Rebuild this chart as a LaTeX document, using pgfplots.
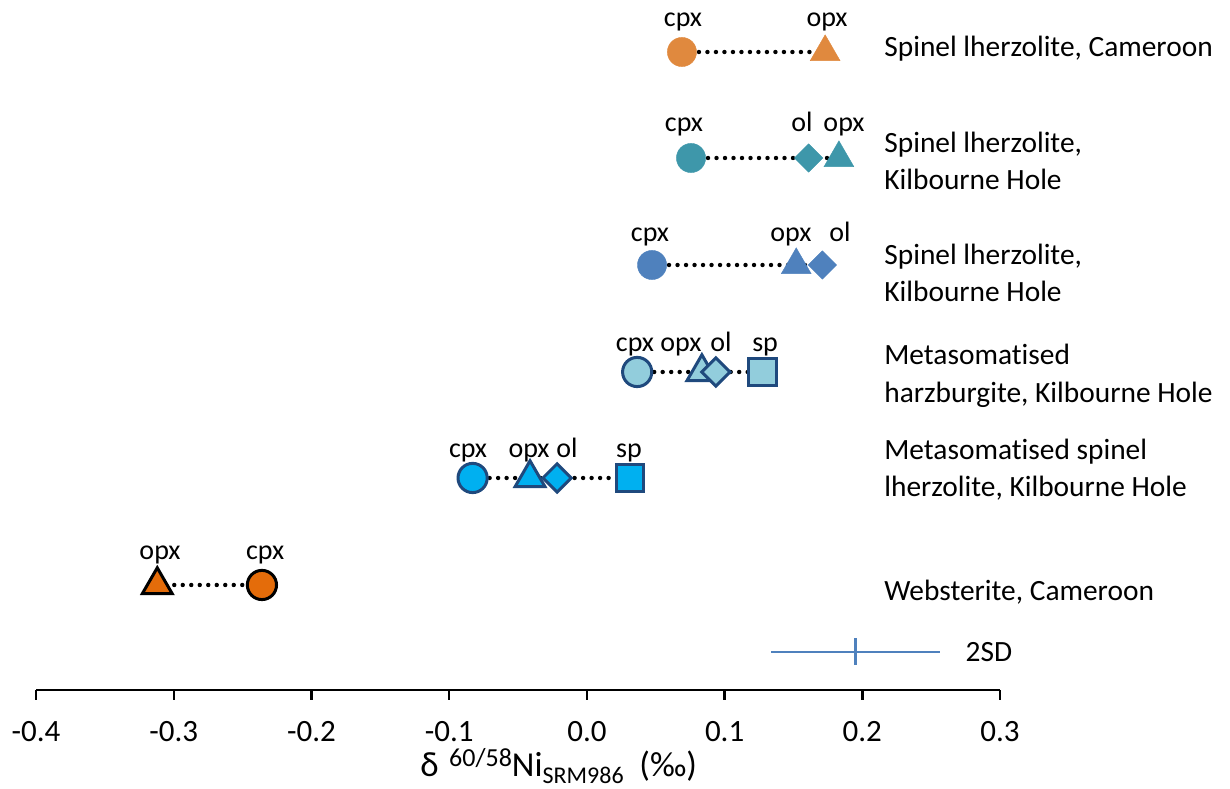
\documentclass[border=0pt]{standalone}
\usepackage{pgfplots}
\pgfplotsset{compat=1.18}
\usepackage{fontspec}
\setmainfont{Carlito}[Ligatures=NoCommon]
\definecolor{c1}{RGB}{224,137,62}
\definecolor{c2}{RGB}{62,151,170}
\definecolor{c3}{RGB}{79,129,189}
\definecolor{c4}{RGB}{146,205,220}
\definecolor{c5}{RGB}{0,176,240}
\definecolor{c6}{RGB}{228,108,10}
\definecolor{edge}{RGB}{31,73,125}
\pgfplotsset{
  circ/.style n args={3}{only marks, mark=*, mark size=7.3pt, mark options={fill=#1, draw=#2, line width=#3}},
  tri/.style n args={3}{only marks, mark=triangle*, mark size=8.6pt, mark options={fill=#1, draw=#2, line width=#3}},
  dia/.style n args={3}{only marks, mark=square*, mark size=5pt, mark options={fill=#1, draw=#2, line width=#3, rotate=45}},
  sq/.style n args={3}{only marks, mark=square*, mark size=6.8pt, mark options={fill=#1, draw=#2, line width=#3}},
  dotline/.style={no marks, black, line width=2.2pt, line cap=round, dash pattern=on 0pt off 4.25pt},
}
\tikzset{
  lab/.style={anchor=base, inner sep=0pt, font=\fontsize{14}{16}\selectfont},
  rlab/.style={anchor=base west, inner sep=0pt, font=\fontsize{14.7}{17}\selectfont},
}
\begin{document}
\begin{tikzpicture}
\begin{axis}[
  scale only axis, width=482pt, height=345pt,
  xmin=-0.4, xmax=0.3, ymin=0, ymax=690,
  axis x line=bottom, axis y line=none,
  axis line style={-, line width=1.2pt, black},
  xtick={-0.4,-0.3,-0.2,-0.1,0,0.1,0.2,0.3},
  xticklabels={-0.4,-0.3,-0.2,-0.1,0.0,0.1,0.2,0.3},
  tick align=outside, major tick length=5pt,
  tick style={line width=1.2pt, black},
  xticklabel style={font=\fontsize{15.5}{18}\selectfont, anchor=base, yshift=-21pt},
  clip=false,
]
% dotted connecting lines
\addplot[dotline] coordinates {(0.069,638) (0.173,638)};
\addplot[dotline] coordinates {(0.0756,532) (0.183,532)};
\addplot[dotline] coordinates {(0.0473,425) (0.171,425)};
\addplot[dotline] coordinates {(0.0365,318) (0.1275,318)};
\addplot[dotline] coordinates {(-0.083,212) (0.0313,212)};
\addplot[dotline] coordinates {(-0.312,105) (-0.236,105)};
% Row 1: Spinel lherzolite, Cameroon
\addplot[circ={c1}{c1}{0.2pt}] coordinates {(0.069,638)};
\addplot[tri={c1}{c1}{0.2pt}] coordinates {(0.173,638)};
% Row 2
\addplot[circ={c2}{c2}{0.2pt}] coordinates {(0.0756,532)};
\addplot[dia={c2}{c2}{0.2pt}] coordinates {(0.161,532)};
\addplot[tri={c2}{c2}{0.2pt}] coordinates {(0.183,532)};
% Row 3
\addplot[circ={c3}{c3}{0.2pt}] coordinates {(0.0473,425)};
\addplot[tri={c3}{c3}{0.2pt}] coordinates {(0.152,425)};
\addplot[dia={c3}{c3}{0.2pt}] coordinates {(0.171,425)};
% Row 4
\addplot[circ={c4}{edge}{1.5pt}] coordinates {(0.0365,318)};
\addplot[tri={c4}{edge}{1.5pt}] coordinates {(0.0835,318)};
\addplot[dia={c4}{edge}{1.5pt}] coordinates {(0.0937,318)};
\addplot[sq={c4}{edge}{1.5pt}] coordinates {(0.1275,318)};
% Row 5
\addplot[circ={c5}{edge}{1.5pt}] coordinates {(-0.083,212)};
\addplot[tri={c5}{edge}{1.5pt}] coordinates {(-0.0413,212)};
\addplot[dia={c5}{edge}{1.5pt}] coordinates {(-0.0217,212)};
\addplot[sq={c5}{edge}{1.5pt}] coordinates {(0.0313,212)};
% Row 6
\addplot[tri={c6}{black}{1.5pt}] coordinates {(-0.312,105)};
\addplot[circ={c6}{black}{1.5pt}] coordinates {(-0.236,105)};
% 2SD
\addplot[c3, line width=1.25pt, mark=|, mark size=6.75pt, mark options={line width=1.25pt},
  error bars/.cd, x dir=both, x explicit, error mark=none,
  error bar style={line width=1.25pt, c3}]
  coordinates {(0.195,38) +- (0.0615,0)};
% mineral labels
\node[lab] at (axis cs:0.0698,663) {cpx};
\node[lab] at (axis cs:0.1744,663) {opx};
\node[lab] at (axis cs:0.0705,558) {cpx};
\node[lab] at (axis cs:0.1562,558) {ol};
\node[lab] at (axis cs:0.1867,558) {opx};
\node[lab] at (axis cs:0.0458,448) {cpx};
\node[lab] at (axis cs:0.1482,448) {opx};
\node[lab] at (axis cs:0.1838,448) {ol};
\node[lab] at (axis cs:0.0349,338) {cpx};
\node[lab] at (axis cs:0.0683,338) {opx};
\node[lab] at (axis cs:0.0974,338) {ol};
\node[lab] at (axis cs:0.1294,338) {sp};
\node[lab] at (axis cs:-0.0863,232) {cpx};
\node[lab] at (axis cs:-0.0420,232) {opx};
\node[lab] at (axis cs:-0.0144,232) {ol};
\node[lab] at (axis cs:0.0306,232) {sp};
\node[lab] at (axis cs:-0.3100,130) {opx};
\node[lab] at (axis cs:-0.2337,130) {cpx};
% row labels
\node[rlab] at (axis cs:0.2157,633) {Spinel lherzolite, Cameroon};
\node[rlab] at (axis cs:0.2157,537) {Spinel lherzolite,};
\node[rlab] at (axis cs:0.2157,500) {Kilbourne Hole};
\node[rlab] at (axis cs:0.2157,425) {Spinel lherzolite,};
\node[rlab] at (axis cs:0.2157,388) {Kilbourne Hole};
\node[rlab] at (axis cs:0.2157,325) {Metasomatised};
\node[rlab] at (axis cs:0.2157,287) {harzburgite, Kilbourne Hole};
\node[rlab] at (axis cs:0.2157,230) {Metasomatised spinel};
\node[rlab] at (axis cs:0.2157,193) {lherzolite, Kilbourne Hole};
\node[rlab] at (axis cs:0.2157,89) {Websterite, Cameroon};
\node[rlab] at (axis cs:0.2748,28) {2SD};
% axis title
\node[anchor=base west, inner sep=0pt, font=\fontsize{17.5}{20}\selectfont] at (axis cs:-0.1212,-87)
  {δ\hspace{0.3em}{\fontsize{13}{15}\selectfont\raisebox{0.42em}{60/58}}Ni{\fontsize{12}{14}\selectfont\raisebox{-0.28em}{SRM986}}\ \ (‰)};
\coordinate (bbl) at (axis cs:-0.4262,-99);
\coordinate (btr) at (axis cs:0.4670,690);
\end{axis}
\pgfresetboundingbox
\useasboundingbox (bbl) rectangle (btr);
\end{tikzpicture}
\end{document}
